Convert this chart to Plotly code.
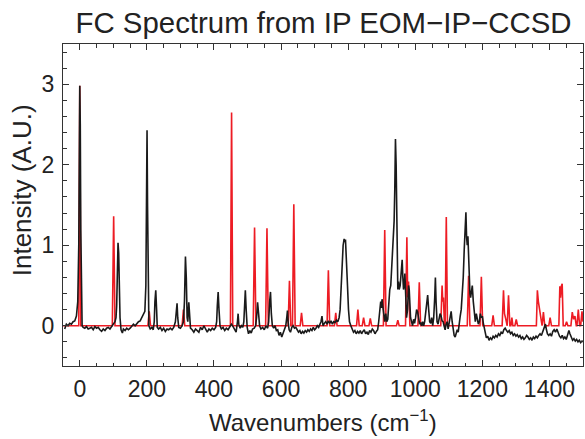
import plotly.graph_objects as go

# Experimental spectrum (black)
black_x = [-45, -40, -35, -30, -25, -20, -15, -10, -6, -3, -1, 0, 1.5, 3, 5, 7, 10, 15, 20, 25, 30, 35, 40, 45, 50, 55, 60, 65, 70, 75, 80, 85, 90, 95, 100, 105, 108, 110, 112, 114, 116, 118, 120, 123, 127, 130, 135, 140, 145, 150, 155, 160, 165, 170, 175, 180, 185, 190, 194, 197, 199, 200.5, 202, 204, 206, 210, 215, 219, 222, 224, 226.5, 229, 231, 235, 240, 245, 250, 255, 260, 265, 270, 275, 280, 285, 288, 290, 292, 295, 300, 305, 309, 312, 315, 317.5, 320, 322, 325, 327, 330, 335, 340, 345, 350, 355, 360, 365, 370, 375, 380, 385, 390, 395, 400, 405, 408, 410, 412.5, 415, 418, 422, 427, 432, 437, 442, 447, 452, 457, 462, 466, 470, 472, 474, 478, 482, 486, 489, 491, 493.5, 496, 499, 503, 507, 511, 515, 520, 524, 527, 530, 533, 536, 540, 545, 550, 555, 560, 563, 566, 568.5, 571, 574, 578, 582, 586, 590, 594, 598, 602, 606, 610, 614, 617, 619, 621, 624, 628, 632, 636, 640, 644, 648, 652, 656, 660, 664, 668, 672, 676, 680, 684, 688, 692, 696, 700, 704, 708, 712, 716, 719, 722, 725, 729, 733, 737, 741, 745, 749, 753, 757, 761, 765, 769, 773, 776, 779, 782, 785, 788, 790, 792, 795, 798, 801, 804, 808, 812, 816, 820, 824, 828, 832, 836, 840, 844, 848, 852, 856, 860, 864, 868, 872, 876, 880, 884, 888, 891, 894, 897, 899, 901, 903, 906, 909, 912, 915, 918, 921, 924, 927, 930, 933, 935, 937, 939, 941, 943, 944.5, 946, 948, 950, 952, 955, 957, 959, 961, 963, 965, 967, 969, 970, 972, 974, 977, 980, 982, 984, 986, 989, 992, 995, 998, 1001, 1004, 1007, 1010, 1013, 1016, 1019, 1022, 1025, 1028, 1031, 1034, 1037, 1040, 1043, 1046, 1049, 1052, 1055, 1058, 1060, 1062, 1065, 1068, 1071, 1074, 1077, 1080, 1083, 1086, 1089, 1092, 1095, 1098, 1101, 1104, 1107, 1110, 1113, 1116, 1119, 1122, 1125, 1128, 1131, 1134, 1137, 1140, 1143, 1146, 1149, 1151, 1153, 1155, 1157, 1159, 1161, 1163, 1165, 1167, 1170, 1173, 1176, 1179, 1182, 1185, 1188, 1191, 1194, 1197, 1200, 1203, 1206, 1209, 1212, 1216, 1220, 1224, 1228, 1232, 1236, 1240, 1244, 1248, 1252, 1256, 1260, 1264, 1268, 1272, 1276, 1280, 1284, 1288, 1292, 1296, 1300, 1304, 1308, 1312, 1316, 1320, 1324, 1328, 1332, 1336, 1340, 1344, 1348, 1352, 1356, 1360, 1364, 1368, 1372, 1376, 1380, 1384, 1388, 1391, 1394, 1398, 1402, 1406, 1410, 1414, 1418, 1422, 1426, 1430, 1434, 1438, 1442, 1446, 1450, 1454, 1458, 1461, 1465, 1469, 1473, 1477, 1481, 1485, 1489, 1493, 1497, 1500]
black_y = [-0.04, 0.02, 0.0, 0.03, 0.02, 0.05, 0.06, 0.12, 0.3, 1.0, 2.3, 2.98, 2.5, 1.2, 0.2, 0.0, -0.02, -0.03, -0.01, -0.04, -0.03, -0.02, -0.05, -0.01, -0.03, -0.02, -0.05, -0.07, -0.04, -0.06, -0.03, -0.02, -0.04, 0.0, 0.02, 0.05, 0.1, 0.25, 0.7, 1.03, 0.9, 0.4, 0.1, -0.05, -0.09, -0.04, -0.06, -0.03, -0.05, -0.03, 0.0, 0.02, 0.0, 0.03, 0.05, 0.06, 0.1, 0.13, 0.18, 0.5, 1.8, 2.43, 1.5, 0.3, 0.0, -0.04, -0.02, -0.05, 0.05, 0.3, 0.44, 0.2, -0.02, -0.04, -0.02, -0.06, -0.03, -0.07, -0.04, -0.05, -0.03, -0.05, -0.02, 0.05, 0.2, 0.28, 0.1, -0.02, -0.03, 0.0, 0.05, 0.3, 0.86, 0.6, 0.1, 0.05, 0.29, 0.1, -0.03, -0.05, -0.08, -0.04, -0.06, -0.08, -0.02, -0.05, 0.0, -0.05, -0.08, -0.04, -0.06, -0.03, -0.05, -0.02, 0.05, 0.25, 0.42, 0.2, 0.0, -0.04, -0.02, -0.06, -0.03, -0.05, -0.02, 0.02, -0.01, -0.05, -0.08, 0.05, 0.15, 0.02, -0.03, 0.0, -0.02, 0.05, 0.25, 0.44, 0.2, -0.02, -0.1, -0.06, -0.09, -0.04, -0.03, 0.0, 0.1, 0.29, 0.15, 0.0, -0.04, -0.02, -0.05, 0.0, -0.03, 0.05, 0.3, 0.42, 0.15, 0.0, -0.03, 0.0, -0.06, -0.05, -0.12, -0.08, -0.14, -0.1, -0.05, 0.0, 0.1, 0.19, 0.05, -0.05, -0.08, -0.02, 0.0, -0.03, -0.02, -0.06, -0.08, -0.06, -0.1, -0.07, -0.09, -0.06, -0.08, -0.05, -0.07, -0.04, -0.06, -0.02, -0.05, -0.03, 0.0, -0.02, 0.02, 0.05, 0.12, 0.0, 0.03, 0.05, 0.02, 0.06, 0.03, 0.06, 0.02, 0.05, 0.04, 0.07, 0.05, 0.1, 0.2, 0.45, 0.8, 1.0, 1.08, 1.04, 1.07, 0.85, 0.5, 0.2, 0.05, 0.0, -0.05, -0.08, -0.06, -0.1, -0.07, -0.09, -0.06, -0.1, -0.07, -0.05, -0.1, -0.08, -0.11, -0.06, -0.08, -0.04, -0.06, -0.1, -0.07, -0.05, 0.05, 0.2, 0.3, 0.22, 0.33, 0.25, 0.1, 0.05, 0.15, 0.05, 0.08, 0.3, 0.45, 0.5, 0.75, 0.85, 1.0, 1.3, 1.7, 2.32, 2.0, 1.3, 0.7, 0.45, 0.55, 0.45, 0.5, 0.65, 0.7, 0.82, 0.6, 0.45, 0.5, 0.65, 0.55, 0.35, 0.1, 0.2, 0.5, 0.45, 0.3, 0.1, 0.05, 0.0, 0.08, 0.03, 0.1, 0.2, 0.17, 0.1, 0.02, 0.04, 0.0, 0.05, 0.0, 0.05, 0.15, 0.3, 0.38, 0.2, 0.05, 0.03, 0.1, 0.0, 0.1, 0.35, 0.6, 0.3, 0.05, 0.02, 0.08, 0.15, 0.12, 0.06, 0.05, 0.0, -0.05, 0.02, 0.05, -0.04, 0.05, 0.12, 0.18, 0.05, -0.05, -0.12, -0.14, -0.08, -0.05, -0.08, 0.05, 0.12, 0.2, 0.35, 0.6, 0.95, 1.2, 1.41, 1.1, 1.0, 1.11, 0.9, 0.5, 0.4, 0.35, 0.45, 0.5, 0.3, 0.15, 0.05, 0.15, 0.1, 0.02, 0.05, 0.15, 0.1, 0.12, 0.03, -0.05, -0.12, -0.15, -0.13, -0.18, -0.15, -0.17, -0.13, -0.15, -0.12, -0.14, -0.1, -0.12, -0.08, -0.1, -0.05, -0.03, -0.06, -0.08, -0.06, -0.1, -0.08, -0.12, -0.1, -0.13, -0.11, -0.14, -0.12, -0.16, -0.14, -0.17, -0.15, -0.12, -0.14, -0.17, -0.15, -0.18, -0.14, -0.16, -0.13, -0.15, -0.12, -0.1, -0.12, -0.08, -0.02, 0.02, -0.05, -0.1, -0.12, -0.1, -0.13, -0.07, -0.05, -0.08, -0.04, -0.09, -0.13, -0.15, -0.12, -0.16, -0.14, -0.17, -0.12, -0.06, -0.1, -0.15, -0.18, -0.16, -0.19, -0.17, -0.2, -0.18, -0.21, -0.19, -0.2]

# Calculated FC spectrum (red)
red_x = [-50, -3, 0, 3, 97, 101, 105, 203, 207, 211, 305, 309, 313, 449, 452.5, 456, 517, 521, 525, 554, 558, 562, 621, 625, 629, 634, 638, 642, 657, 661, 665, 737, 741, 745, 759, 763, 767, 825, 829, 833, 842, 846, 850, 862, 866, 870, 905, 909, 913, 944, 948, 952, 971, 975, 977.5, 980, 984, 1008, 1012, 1016, 1076, 1080, 1082, 1084, 1087, 1089, 1092.5, 1096, 1155, 1159, 1163, 1193, 1197, 1201, 1228, 1232, 1236, 1259, 1263, 1266, 1270, 1274, 1278, 1282, 1285, 1288, 1291, 1297, 1301, 1305, 1361, 1364, 1367, 1370, 1374, 1378, 1382, 1386, 1398, 1402, 1406, 1428, 1431, 1433, 1436, 1438, 1441, 1447, 1451, 1455, 1464, 1468, 1472, 1476, 1480, 1482, 1486, 1490, 1493, 1497, 1500]
red_y = [0, 0, 2.98, 0, 0, 1.36, 0, 0, 0.18, 0, 0, 0.2, 0, 0, 2.65, 0, 0, 1.22, 0, 0, 1.21, 0, 0, 0.56, 0, 0, 1.51, 0, 0, 0.16, 0, 0, 0.69, 0, 0, 0.16, 0, 0, 0.2, 0, 0, 0.1, 0, 0, 0.09, 0, 0, 1.19, 0, 0, 0.07, 0, 0, 1.1, 0.35, 0.55, 0, 0, 0.54, 0, 0, 0.5, 0.3, 0.35, 0, 0, 1.35, 0, 0, 0.62, 0, 0, 0.61, 0, 0, 0.13, 0, 0, 0.44, 0.15, 0.08, 0, 0.38, 0, 0, 0.1, 0, 0, 0.08, 0, 0, 0.44, 0.3, 0.2, 0.1, 0, 0.17, 0, 0, 0.1, 0, 0, 0.49, 0.35, 0.5, 0.52, 0, 0, 0.05, 0, 0, 0.17, 0.08, 0.12, 0, 0, 0.2, 0, 0, 0.18, 0.05]

x_ticks = [0, 200, 400, 600, 800, 1000, 1200, 1400]
y_ticks = [0, 1, 2, 3]

FONT = "Liberation Sans, Arial, Helvetica, sans-serif"
FRAME = "#333333"
TXT = "#222222"

fig = go.Figure()
fig.add_trace(go.Scatter(x=red_x, y=red_y, mode="lines",
                         line=dict(color="#ed1c24", width=1.6), showlegend=False))
fig.add_trace(go.Scatter(x=black_x, y=black_y, mode="lines",
                         line=dict(color="#1a1a1a", width=1.6), showlegend=False))

axis_common = dict(
    showgrid=False, zeroline=False, showline=True, linecolor=FRAME, linewidth=1,
    mirror="ticks", ticks="inside", tickcolor=FRAME, ticklen=6, tickwidth=1,
    tickfont=dict(family=FONT, size=23, color=TXT),
)

fig.update_layout(
    width=585, height=439,
    margin=dict(l=63, r=2, t=44, b=73),
    paper_bgcolor="white", plot_bgcolor="white",
    font=dict(family=FONT, color=TXT),
    title=dict(text="FC Spectrum from IP EOM−IP−CCSD", x=0.553, xanchor="center",
               y=0.948, yanchor="middle", font=dict(family=FONT, size=29.4, color=TXT)),
    xaxis=dict(range=[-50, 1500], tickvals=x_ticks, ticklabelstandoff=2,
               minor=dict(dtick=50, tick0=0, ticks="inside", ticklen=3.5, tickcolor=FRAME),
               **axis_common),
    yaxis=dict(range=[-0.5, 3.5], tickvals=y_ticks, ticklabelstandoff=3,
               minor=dict(dtick=0.2, tick0=0, ticks="inside", ticklen=3.5, tickcolor=FRAME),
               **axis_common),
    annotations=[
        dict(text="Wavenumbers (cm<sup>−1</sup>)", xref="paper", yref="paper",
             x=0.5, y=-0.172, xanchor="center", yanchor="middle", showarrow=False,
             font=dict(family=FONT, size=24, color=TXT)),
        dict(text="Intensity (A.U.)", xref="paper", yref="paper", textangle=-90,
             x=-0.08, y=0.547, xanchor="center", yanchor="middle", showarrow=False,
             font=dict(family=FONT, size=26, color=TXT)),
    ],
)

fig.write_html("out.html", config={"displayModeBar": False},
               post_script="document.body.style.margin='0';document.body.style.padding='0';")
